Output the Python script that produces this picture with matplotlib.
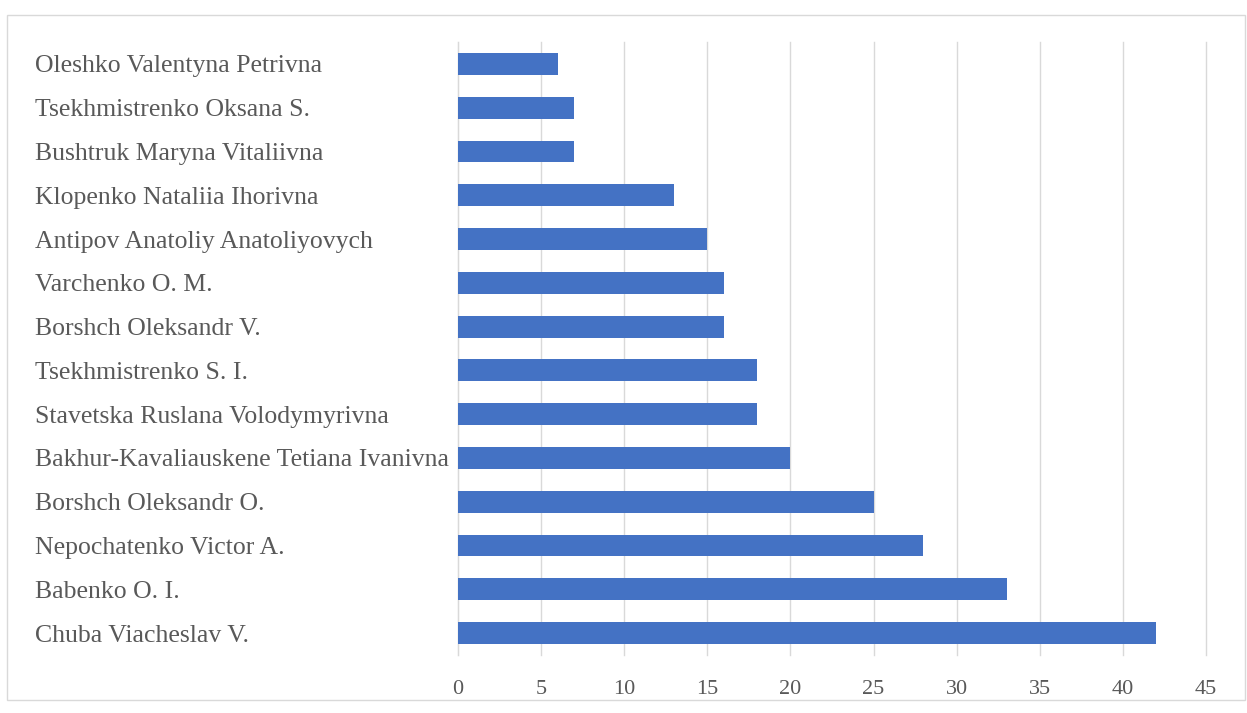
import matplotlib
matplotlib.use("Agg")
import matplotlib.pyplot as plt
from matplotlib.patches import Rectangle

names = [
    "Oleshko Valentyna Petrivna",
    "Tsekhmistrenko Oksana S.",
    "Bushtruk Maryna Vitaliivna",
    "Klopenko Nataliia Ihorivna",
    "Antipov Anatoliy Anatoliyovych",
    "Varchenko O. M.",
    "Borshch Oleksandr V.",
    "Tsekhmistrenko S. I.",
    "Stavetska Ruslana Volodymyrivna",
    "Bakhur-Kavaliauskene Tetiana Ivanivna",
    "Borshch Oleksandr O.",
    "Nepochatenko Victor A.",
    "Babenko O. I.",
    "Chuba Viacheslav V.",
]
counts = [6, 7, 7, 13, 15, 16, 16, 18, 18, 20, 25, 28, 33, 42]
x_ticks = [0, 5, 10, 15, 20, 25, 30, 35, 40, 45]

W, H = 1247, 713
fig = plt.figure(figsize=(W / 100, H / 100), dpi=100)
plt.rcParams['font.family'] = ['Liberation Serif', 'DejaVu Serif']

# outer chart border
fig.patches.append(Rectangle((7 / W, 1 - 700 / H), (1245 - 7) / W, (700 - 15) / H,
                             transform=fig.transFigure, fill=False,
                             edgecolor="#d9d9d9", linewidth=1))

ax = fig.add_axes([458 / W, 1 - 655 / H, (1206 - 458) / W, (655 - 42) / H])
pos = list(range(len(names)))
ax.barh(pos, counts, height=0.5, color="#4472C4", zorder=3)
ax.set_ylim(len(names) - 0.5, -0.5)
ax.set_xlim(0, 45)
ax.set_xticks(x_ticks)
ax.set_xticklabels([str(t) for t in x_ticks], fontsize=16, color="#595959")
ax.set_yticks(pos)
ax.set_yticklabels(names, fontsize=18.5, color="#595959", ha="left")
ax.tick_params(axis="y", length=0, pad=(458 - 35) * 0.72)
ax.tick_params(axis="x", length=0, pad=18)
ax.grid(axis="x", color="#d9d9d9", linewidth=1, zorder=0)
for gl in ax.get_xgridlines():
    gl.set_clip_on(False)
for s in ["top", "right", "bottom"]:
    ax.spines[s].set_visible(False)
ax.spines["left"].set_color("#d9d9d9")

fig.savefig("out.png", dpi=100)
